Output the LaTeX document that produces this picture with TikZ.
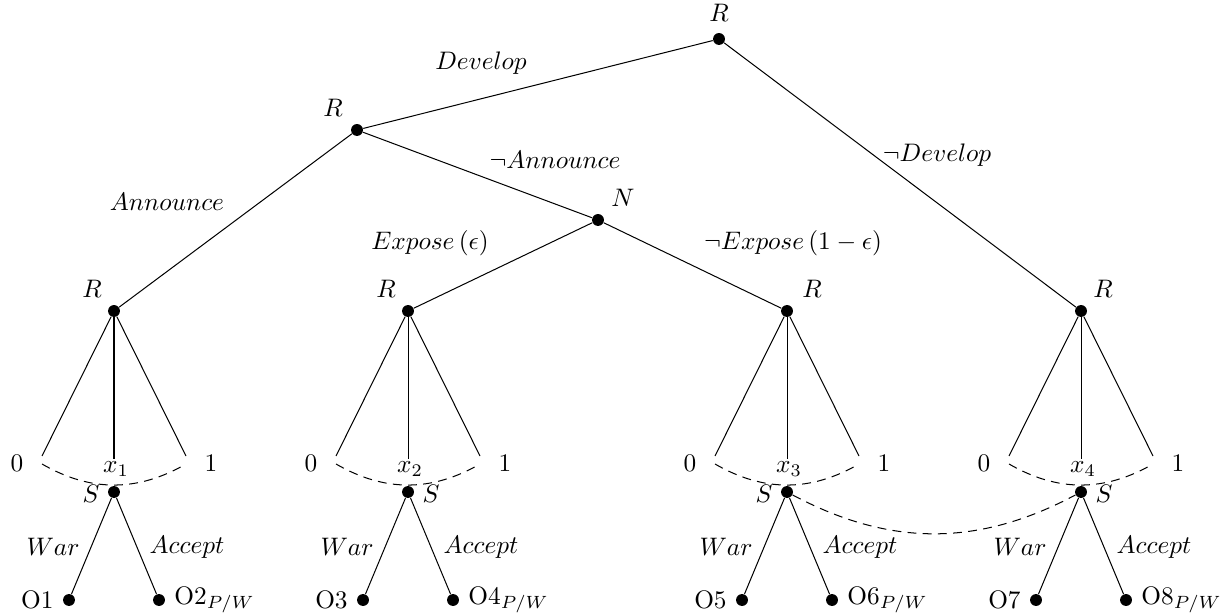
\documentclass[tikz,border=0pt]{standalone}
\begin{document}
\begin{tikzpicture}[x=0.395pt,y=-0.395pt,
  dot/.style={circle,fill=black,inner sep=0pt,minimum size=4.7pt},
  lab/.style={inner sep=0pt},
  branch/.style={line width=0.4pt},
  infoset/.style={line width=0.4pt,dash pattern=on 3.5pt off 2.5pt}]
\useasboundingbox (0,0) rectangle (1231,616);
% top part
\node[dot] (root) at (719,39) {};
\node[dot] (rA) at (357,130) {};
\node[dot] (n) at (598,220) {};
\node[lab] (lroot) at (719,13) {$R$};
\node[lab] (lrA) at (333,108) {$R$};
\node[lab] (ln) at (623,198) {$N$};
% subtrees
\foreach \i/\x/\sx/\rx in {1/114/-23/-22,2/408/23/-22,3/787/-23/25,4/1081/23/22} {
  \pgfmathtruncatemacro{\ka}{2*\i-1}
  \pgfmathtruncatemacro{\kb}{2*\i}
  \node[dot] (r\i) at (\x,311) {};
  \node[lab] (lr\i) at (\x+\rx,289) {$R$};
  \coordinate (fa\i) at (\x-72,456);
  \coordinate (fm\i) at (\x,459);
  \coordinate (fb\i) at (\x+72,456);
  \draw[branch] (r\i) -- (fa\i);
  \draw[branch] (r\i) -- (fm\i);
  \draw[branch] (r\i) -- (fb\i);
  \node[lab] (z\i) at (\x-97,463) {$0$};
  \node[lab] (o\i) at (\x+97,463) {$1$};
  \node[lab] (x\i) at (\x+2,469) {$x_{\i}$};
  \coordinate (da\i) at (\x-72,464);
  \coordinate (db\i) at (\x+72,464);
  \draw[infoset] (da\i) to[bend right=30] (db\i);
  \node[dot] (s\i) at (\x,492) {};
  \node[lab] (ls\i) at (\x+\sx,494) {$S$};
  \node[dot] (la\i) at (\x-45,600) {};
  \node[dot] (lb\i) at (\x+45,600) {};
  \draw[branch] (s\i) -- (la\i);
  \draw[branch] (s\i) -- (lb\i);
  \node[lab] (w\i) at (\x-61,547) {$War$};
  \node[lab] (ac\i) at (\x+73,547) {$Accept$};
  \node[anchor=east] (ola\i) at (la\i.west) {O\ka};
  \node[anchor=west] (olb\i) at (lb\i.east) {O\kb$_{P/W}$};
}
\draw[branch] (root) -- (rA);
\draw[branch] (root) -- (r4);
\draw[branch] (rA) -- (r1);
\draw[branch] (rA) -- (n);
\draw[branch] (n) -- (r2);
\draw[branch] (n) -- (r3);
\draw[infoset] (s3) to[bend right=28] (s4);
% edge labels
\node[lab] (eDev) at (481,63) {$Develop$};
\node[lab] (eNDev) at (937,155) {$\neg Develop$};
\node[lab] (eAnn) at (167,202) {$Announce$};
\node[lab] (eNAnn) at (555,160) {$\neg Announce$};
\node[lab] (eExp) at (430,243) {$Expose\,(\epsilon)$};
\node[lab] (eNExp) at (793,243) {$\neg Expose\,(1-\epsilon)$};
\end{tikzpicture}
\end{document}
